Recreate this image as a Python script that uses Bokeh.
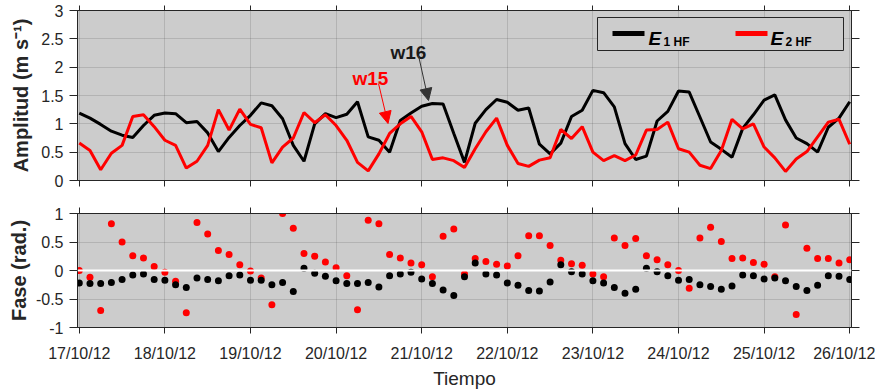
import pandas as pd
from bokeh.plotting import figure
from bokeh.layouts import column
from bokeh.models import (Range1d, FixedTicker, DatetimeTickFormatter, CustomJSTickFormatter,
                          LinearAxis, DatetimeAxis, Span, Label, BoxAnnotation, Arrow, NormalHead)
from bokeh.embed import file_html
from bokeh.resources import INLINE

# ---------------- data (3-hourly, 17/10/12 00:00 .. 26/10/12 00:00) ----------------
start_time = "2012-10-17 00:00"
n_samples = 73
tick_days = ["17/10/12", "18/10/12", "19/10/12", "20/10/12", "21/10/12",
             "22/10/12", "23/10/12", "24/10/12", "25/10/12", "26/10/12"]

e1_amp = [1.19, 1.10, 0.99, 0.87, 0.80, 0.76, 0.97, 1.15,
          1.19, 1.18, 1.02, 1.04, 0.84, 0.51, 0.76, 0.97,
          1.15, 1.37, 1.32, 1.09, 0.62, 0.34, 1.00, 1.18,
          1.11, 1.17, 1.39, 0.77, 0.71, 0.50, 1.06, 1.19,
          1.31, 1.36, 1.35, 0.83, 0.32, 1.01, 1.25, 1.43,
          1.38, 1.24, 1.28, 0.64, 0.47, 0.66, 1.13, 1.24,
          1.59, 1.55, 1.30, 0.65, 0.37, 0.43, 1.05, 1.22,
          1.58, 1.56, 1.12, 0.68, 0.55, 0.41, 0.92, 1.16,
          1.42, 1.51, 1.07, 0.75, 0.65, 0.50, 0.94, 1.10,
          1.39]
e2_amp = [0.66, 0.53, 0.19, 0.48, 0.62, 1.13, 1.16, 0.95,
          0.71, 0.62, 0.22, 0.34, 0.62, 1.25, 0.89, 1.26,
          0.99, 0.93, 0.31, 0.59, 0.75, 1.20, 1.02, 1.16,
          0.97, 0.71, 0.32, 0.17, 0.47, 0.83, 1.00, 1.13,
          0.86, 0.37, 0.40, 0.35, 0.23, 0.56, 0.86, 1.10,
          0.62, 0.30, 0.25, 0.36, 0.40, 0.90, 0.74, 0.95,
          0.50, 0.35, 0.44, 0.35, 0.45, 0.89, 0.90, 1.03,
          0.56, 0.50, 0.27, 0.21, 0.53, 1.08, 0.91, 1.00,
          0.59, 0.40, 0.16, 0.38, 0.51, 0.77, 1.03, 1.08,
          0.64]
e1_phase = [-0.22, -0.23, -0.23, -0.21, -0.16, -0.08, -0.06, -0.16,
            -0.17, -0.25, -0.30, -0.13, -0.16, -0.18, -0.09, -0.08,
            -0.17, -0.17, -0.25, -0.21, -0.37, 0.04, -0.05, -0.10,
            -0.18, -0.23, -0.23, -0.21, -0.29, -0.09, -0.06, -0.03,
            -0.15, -0.23, -0.34, -0.44, -0.11, 0.13, -0.06, -0.08,
            -0.22, -0.26, -0.35, -0.36, -0.20, 0.10, -0.02, -0.06,
            -0.18, -0.22, -0.30, -0.40, -0.33, 0.04, -0.02, -0.09,
            -0.17, -0.16, -0.25, -0.28, -0.33, -0.27, -0.08, -0.09,
            -0.15, -0.13, -0.18, -0.28, -0.35, -0.26, -0.09, -0.10,
            -0.16]
e2_phase = [0.00, -0.12, -0.70, 0.82, 0.50, 0.26, 0.22, 0.07,
            -0.03, -0.19, -0.74, 0.84, 0.64, 0.35, 0.28, 0.10,
            -0.01, -0.13, -0.60, 1.00, 0.74, 0.30, 0.25, 0.15,
            0.05, -0.09, -0.69, 0.88, 0.82, 0.28, 0.22, 0.13,
            0.10, -0.11, 0.60, 0.73, -0.06, 0.21, 0.16, 0.11,
            0.08, 0.26, 0.61, 0.61, 0.44, 0.18, 0.12, 0.09,
            -0.06, -0.11, 0.57, 0.44, 0.56, 0.26, 0.19, 0.10,
            0.00, -0.31, 0.57, 0.76, 0.51, 0.21, 0.22, 0.14,
            0.11, -0.11, 0.80, -0.77, 0.39, 0.21, 0.21, 0.13,
            0.19]
amp_ticks = [0, 0.5, 1, 1.5, 2, 2.5, 3]
phase_ticks = [-1, -0.5, 0, 0.5, 1]

# ---------------- helpers ----------------
times = pd.date_range(start_time, periods=n_samples, freq="3h")
day_ts = pd.to_datetime(tick_days, format="%d/%m/%y")
day_ms = [float(t.value // 10**6) for t in day_ts]
pad = 30 * 60 * 1000.0
xr = Range1d(day_ms[0] - pad, day_ms[-1] + pad)

FONT = "Liberation Sans"
AX = "#262626"
BG = "#cccccc"
RED = "#ff0000"
fmt_num = CustomJSTickFormatter(code="return tick.toString()")
fmt_none = CustomJSTickFormatter(code="return ''")
fmt_date = DatetimeTickFormatter(days="%d/%m/%y", months="%d/%m/%y", hours="%d/%m/%y",
                                 years="%d/%m/%y", minutes="%d/%m/%y")

W = 875
BL, BR = 77, 24


def bare_axis(cls, ticks, out):
    return cls(ticker=FixedTicker(ticks=ticks), formatter=fmt_none,
               major_label_text_font_size="1px", major_label_standoff=0,
               major_tick_in=0, major_tick_out=out, minor_tick_line_color=None,
               axis_line_color=AX, major_tick_line_color=AX)


def style(p, yticks):
    p.outline_line_color = AX
    p.outline_line_width = 1
    p.xgrid.ticker = FixedTicker(ticks=day_ms)
    p.ygrid.ticker = FixedTicker(ticks=yticks)
    for g in (p.xgrid, p.ygrid):
        g.grid_line_color = AX
        g.grid_line_alpha = 0.15
        g.grid_line_width = 1
    for ax in p.xaxis:
        ax.ticker = FixedTicker(ticks=day_ms)
        ax.formatter = fmt_date
        ax.major_tick_in = 0
        ax.major_tick_out = 6
        ax.minor_tick_line_color = None
        ax.axis_line_color = AX
        ax.major_tick_line_color = AX
        ax.major_label_text_font = FONT
        ax.major_label_text_font_size = "16px"
        ax.major_label_text_color = AX
    for ax in p.yaxis:
        ax.ticker = FixedTicker(ticks=yticks)
        ax.formatter = fmt_num
        ax.major_tick_in = 0
        ax.major_tick_out = 8
        ax.minor_tick_line_color = None
        ax.axis_line_color = AX
        ax.major_tick_line_color = AX
        ax.major_label_text_font = FONT
        ax.major_label_text_font_size = "16px"
        ax.major_label_text_color = AX
        ax.major_label_standoff = 6
        ax.axis_label_text_font = FONT
        ax.axis_label_text_font_size = "20px"
        ax.axis_label_text_font_style = "bold"
        ax.axis_label_text_color = AX
    p.add_layout(bare_axis(LinearAxis, yticks, 8), "right")


# ---------------- top panel: amplitude ----------------
p1 = figure(width=W, height=196, x_axis_type="datetime", x_range=xr, y_range=Range1d(0, 3),
            output_backend="svg", toolbar_location=None,
            min_border_left=BL, min_border_right=BR, min_border_top=10, min_border_bottom=16,
            background_fill_color=BG, border_fill_color="white")
p1.line(times, e1_amp, line_color="black", line_width=3)
p1.line(times, e2_amp, line_color=RED, line_width=3)
style(p1, amp_ticks)
p1.xaxis.formatter = fmt_none
p1.xaxis.major_label_text_font_size = "1px"
p1.xaxis.major_label_standoff = 0
p1.yaxis[0].axis_label = "Amplitud (m s\u207b\u00b9)"
p1.yaxis[0].axis_label_standoff = 6
p1.add_layout(bare_axis(DatetimeAxis, day_ms, 5), "above")

# legend (drawn manually, screen units relative to frame)
p1.add_layout(BoxAnnotation(left=520, right=766, bottom=130, top=163,
                            left_units="screen", right_units="screen",
                            bottom_units="screen", top_units="screen",
                            fill_color=BG, fill_alpha=1, line_color=AX, line_alpha=1,
                            line_width=1))
for lx, col in ((535, "black"), (658, RED)):
    p1.add_layout(BoxAnnotation(left=lx, right=lx + 32, bottom=144.5, top=149.5,
                                left_units="screen", right_units="screen",
                                bottom_units="screen", top_units="screen",
                                fill_color=col, fill_alpha=1, line_color=None))
for ex, sub in ((571, "1 HF"), (693, "2 HF")):
    p1.add_layout(Label(x=ex, y=142, x_units="screen", y_units="screen", text="E",
                        text_font=FONT, text_font_size="19px", text_font_style="bold italic",
                        text_color="black", text_baseline="alphabetic", text_align="left"))
    p1.add_layout(Label(x=ex + 15, y=139, x_units="screen", y_units="screen", text=sub,
                        text_font=FONT, text_font_size="12px", text_font_style="bold",
                        text_color="black", text_baseline="alphabetic", text_align="left"))

# annotations
p1.add_layout(Label(x=313, y=128, x_units="screen", y_units="screen", text="w16",
                    text_font=FONT, text_font_size="19px", text_font_style="bold",
                    text_color="#1a1a1a", text_baseline="alphabetic"))
p1.add_layout(Label(x=275, y=102, x_units="screen", y_units="screen", text="w15",
                    text_font=FONT, text_font_size="19px", text_font_style="bold",
                    text_color=RED, text_baseline="alphabetic"))
p1.add_layout(Arrow(x_start=341, y_start=125, x_end=351, y_end=80,
                    start_units="screen", end_units="screen",
                    line_color="#333333", line_width=1,
                    end=NormalHead(size=12, fill_color="#333333", line_color="#333333")))
p1.add_layout(Arrow(x_start=301, y_start=97, x_end=310.5, y_end=57,
                    start_units="screen", end_units="screen",
                    line_color=RED, line_width=1,
                    end=NormalHead(size=12, fill_color=RED, line_color=RED)))

# ---------------- bottom panel: phase ----------------
p2 = figure(width=W, height=195, x_axis_type="datetime", x_range=xr, y_range=Range1d(-1, 1),
            output_backend="svg", toolbar_location=None,
            min_border_left=BL, min_border_right=BR, min_border_top=17, min_border_bottom=64,
            background_fill_color=BG, border_fill_color="white")
style(p2, phase_ticks)
p2.add_layout(Span(location=0, dimension="width", line_color="white", line_width=2))
p2.scatter(times, e2_phase, marker="circle", size=7, fill_color=RED, line_color=None)
p2.scatter(times, e1_phase, marker="circle", size=7, fill_color="black", line_color=None)
p2.xaxis.major_label_standoff = 11
p2.xaxis.axis_label = "Tiempo"
p2.xaxis.axis_label_text_font = FONT
p2.xaxis.axis_label_text_font_size = "19px"
p2.xaxis.axis_label_text_font_style = "normal"
p2.xaxis.axis_label_text_color = AX
p2.xaxis.axis_label_standoff = 3
p2.yaxis[0].axis_label = "Fase (rad.)"
p2.yaxis[0].axis_label_standoff = 3
p2.add_layout(bare_axis(DatetimeAxis, day_ms, 6), "above")

layout = column(p1, p2)
open("out.html", "w").write(file_html(layout, INLINE))
